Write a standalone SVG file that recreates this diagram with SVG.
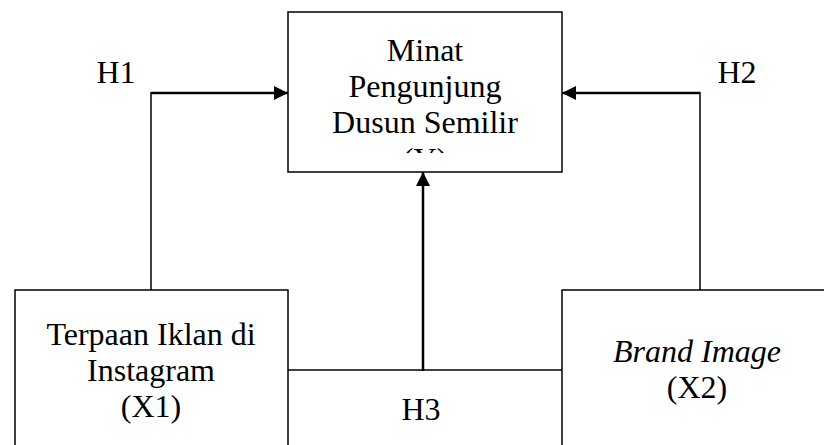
<svg xmlns="http://www.w3.org/2000/svg" width="824" height="445" viewBox="0 0 824 445">
<style>
.box{fill:#fff;stroke:#000;stroke-width:1.5}
.t{font-family:"Liberation Serif","Times New Roman",serif;font-size:32px;fill:#000;text-anchor:middle}
.i{font-style:italic}
.c{fill:none;stroke:#000;stroke-width:1.5}
.a{fill:none;stroke:#000;stroke-width:2.5}
</style>
<defs>
<marker id="ah" markerWidth="14" markerHeight="14" refX="14" refY="7" orient="auto" markerUnits="userSpaceOnUse">
<path d="M0,0 L14,7 L0,14 Z" fill="#000"/>
</marker>
<clipPath id="yclip"><rect x="288" y="12" width="274" height="141"/></clipPath>
</defs>
<rect width="824" height="445" fill="#fff"/>
<g id="node-y">
<rect class="box" x="288" y="12" width="274" height="160"/>
<text class="t" x="425" y="61">Minat</text>
<text class="t" x="425" y="97">Pengunjung</text>
<text class="t" x="425" y="133">Dusun Semilir</text>
<text class="t" x="425" y="170" clip-path="url(#yclip)">(Y)</text>
</g>
<g id="node-x1">
<rect class="box" x="15" y="290" width="273" height="160"/>
<text class="t" x="151" y="345">Terpaan Iklan di</text>
<text class="t" x="151" y="381">Instagram</text>
<text class="t" x="151" y="417">(X1)</text>
</g>
<g id="node-x2">
<rect class="box" x="562" y="290" width="270" height="160"/>
<text class="t i" x="697" y="362">Brand Image</text>
<text class="t" x="697" y="398">(X2)</text>
</g>
<g id="connectors">
<path class="c" d="M151,290 V92"/>
<path class="a" d="M151,93 H288" marker-end="url(#ah)"/>
<path class="c" d="M700,290 V92"/>
<path class="a" d="M700,93 H562" marker-end="url(#ah)"/>
<path class="c" d="M288,370 H562"/>
<path class="a" d="M423,371 V172" marker-end="url(#ah)"/>
</g>
<g id="labels">
<text class="t" x="116" y="83">H1</text>
<text class="t" x="737" y="83">H2</text>
<text class="t" x="421" y="420">H3</text>
</g>
</svg>
